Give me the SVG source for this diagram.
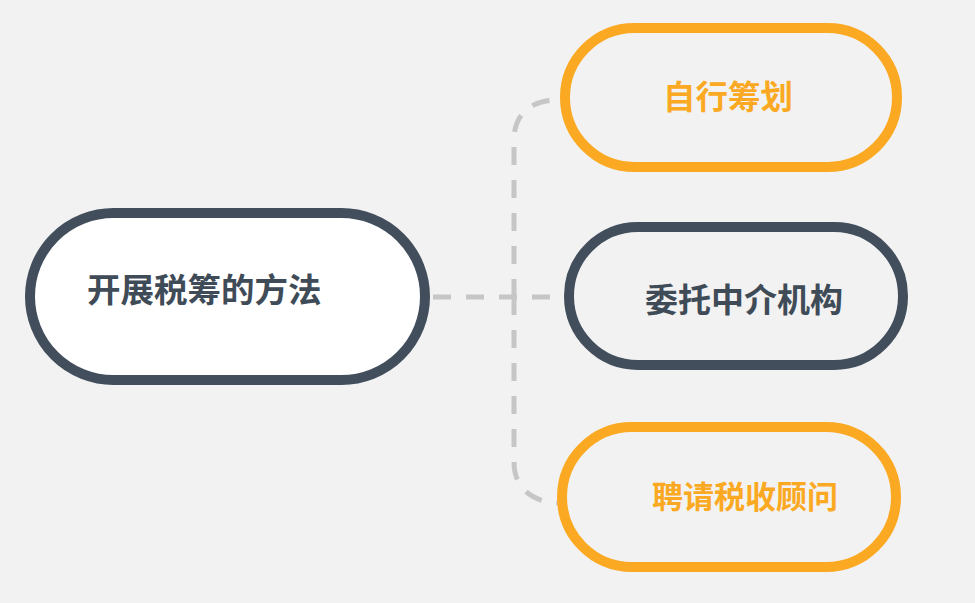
<svg xmlns="http://www.w3.org/2000/svg" width="975" height="603" viewBox="0 0 975 603">
<style>
.bg{fill:#F2F2F2}
.dark{fill:#FFFFFF;stroke:#424E5C;stroke-width:10}
.darkn{fill:#F2F2F2;stroke:#424E5C;stroke-width:10}
.orange{fill:#F2F2F2;stroke:#FBA922;stroke-width:10}
.t{font-family:"Noto Sans CJK SC","Noto Sans",sans-serif;font-weight:bold;dominant-baseline:central}
.td{fill:#404B58}
.to{fill:#FBA922}
.conn{fill:none;stroke:#C6C6C6;stroke-width:5;stroke-dasharray:18 15}
</style>
<rect class="bg" x="0" y="0" width="975" height="603"/>
<g id="connectors">
<path class="conn" d="M433 297 H560"/>
<path class="conn" d="M514 297 V140 C514 115 530 100 557 100"/>
<path class="conn" d="M514 297 V462 C514 488 532 503 561 503"/>
</g>
<g id="main">
<rect class="dark" x="30" y="213" width="395" height="167" rx="83.5"/>
<text class="t td" x="87" y="287" font-size="33.5">开展税筹的方法</text>
</g>
<g id="n1">
<rect class="orange" x="565" y="28" width="332" height="139" rx="69.5"/>
<text class="t to" x="663" y="94" font-size="32.5">自行筹划</text>
</g>
<g id="n2">
<rect class="darkn" x="569" y="227" width="334" height="138" rx="69"/>
<text class="t td" x="645" y="298" font-size="33">委托中介机构</text>
</g>
<g id="n3">
<rect class="orange" x="562" y="427" width="334" height="140" rx="70"/>
<text class="t to" x="652" y="494" font-size="31">聘请税收顾问</text>
</g>
</svg>
